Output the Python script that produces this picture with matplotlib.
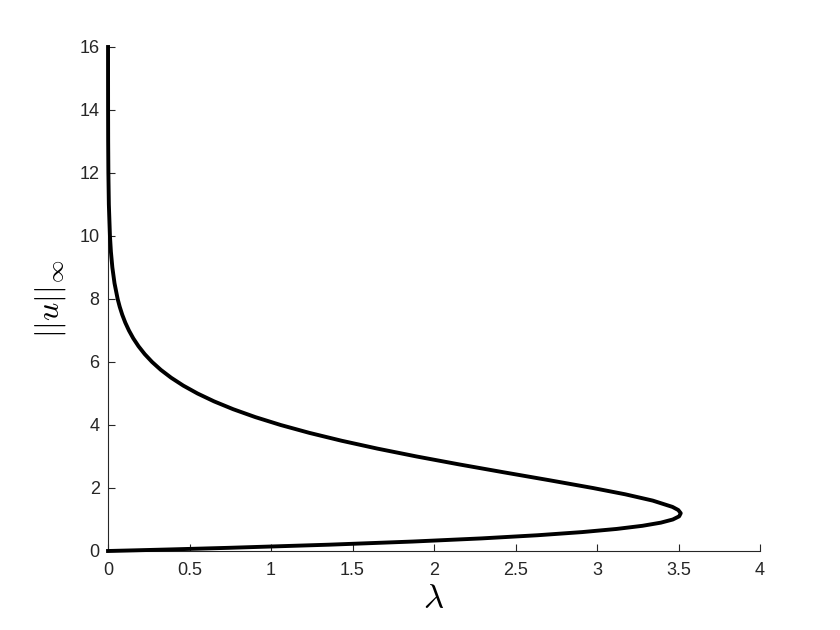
import numpy as np
import matplotlib
matplotlib.use("Agg")
import matplotlib.pyplot as plt

plt.rcParams['font.family'] = ['Liberation Sans', 'DejaVu Sans']
plt.rcParams['mathtext.fontset'] = 'cm'

# sup-norm of solution and corresponding lambda
u_norm = [0.0, 0.02, 0.05, 0.1, 0.2, 0.3, 0.4, 0.5, 0.6, 0.7, 0.8, 0.9, 1.0,
          1.1, 1.2, 1.3, 1.4, 1.6, 1.8, 2.0, 2.25, 2.5, 2.75, 3.0, 3.25, 3.5,
          3.75, 4.0, 4.25, 4.5, 4.75, 5.0, 5.25, 5.5, 5.75, 6.0, 6.25, 6.5,
          6.75, 7.0, 7.25, 7.5, 7.75, 8.0, 8.5, 9.0, 9.5, 10.0, 11.0, 12.0,
          13.0, 14.0, 15.0, 16.0]
lam = [0.0, 0.1574, 0.3837, 0.7360, 1.3542, 1.8686, 2.2918, 2.6349, 2.9080,
       3.1200, 3.2789, 3.3917, 3.4648, 3.5038, 3.5136, 3.4986, 3.4627,
       3.3416, 3.1729, 2.9743, 2.7038, 2.4257, 2.1530, 1.8937, 1.6528,
       1.4330, 1.2352, 1.0591, 0.9040, 0.7684, 0.6506, 0.5490, 0.4618,
       0.3874, 0.3240, 0.2704, 0.2251, 0.1870, 0.1550, 0.1283, 0.1059,
       0.0873, 0.0719, 0.0591, 0.0398, 0.0266, 0.0177, 0.0118, 0.0051,
       0.0022, 0.0009, 0.0004, 0.0002, 0.0001]

fig = plt.figure(figsize=(8.4, 6.3), dpi=100)
ax = fig.add_axes([0.1286, 0.1254, 0.7762, 0.8])

ax.plot(lam, u_norm, color='black', linewidth=2.8, clip_on=False, zorder=5,
        solid_joinstyle='round')

ax.set_xlim(0, 4)
ax.set_ylim(0, 16)
ax.set_xticks(np.arange(0, 4.01, 0.5))
ax.set_xticklabels(['0', '0.5', '1', '1.5', '2', '2.5', '3', '3.5', '4'])
ax.set_yticks(np.arange(0, 17, 2))

for s in ['top', 'right']:
    ax.spines[s].set_visible(False)
for s in ['left', 'bottom']:
    ax.spines[s].set_linewidth(0.8)
    ax.spines[s].set_color('#262626')

ax.tick_params(direction='in', length=5, width=0.8, color='#262626',
               labelcolor='#262626', labelsize=13)
ax.tick_params(axis='x', pad=8)
ax.tick_params(axis='y', pad=6)

ax.set_xlabel(r'$\lambda$', fontsize=25, labelpad=2)
ax.set_ylabel(r'$||u||_{\infty}$', fontsize=23, labelpad=8)

fig.savefig('out.png', dpi=100)
